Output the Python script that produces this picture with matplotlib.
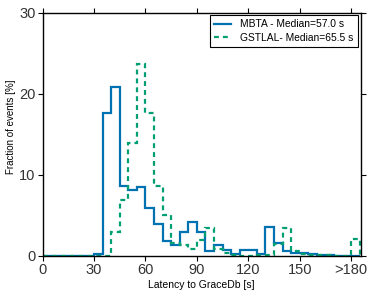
import numpy as np
import matplotlib
matplotlib.use("Agg")
import matplotlib.pyplot as plt

plt.rcParams['font.family'] = ['Liberation Sans', 'DejaVu Sans']

# histogram bins (5 s wide), last bin holds everything above 180 s
bin_edges = np.arange(0, 190, 5)

mbta_frac = [0, 0, 0, 0, 0, 0,
             0.25, 17.7, 20.8, 8.6, 8.2, 8.5, 5.9, 4.0, 1.8, 1.4,
             2.9, 4.2, 2.9, 0.6, 1.35, 0.7, 0.3, 0.7, 0.7, 0.3,
             3.6, 1.65, 0.6, 0.4, 0.4, 0.2, 0.15, 0.1, 0, 0, 0]
gstlal_frac = [0, 0, 0, 0, 0, 0,
               0, 0, 2.9, 6.9, 14.0, 23.7, 17.7, 8.6, 5.1, 1.6,
               1.4, 0.8, 2.0, 3.5, 0.9, 0.4, 0.15, 0, 0, 0.1,
               0.1, 1.5, 3.5, 0.6, 0.3, 0.15, 0.1, 0.1, 0.05, 0, 2.1]

xtick_vals = [0, 30, 60, 90, 120, 150, 180]
xtick_labels = ['0', '30', '60', '90', '120', '150', '>180']
ytick_vals = [0, 10, 20, 30]

mbta_label = 'MBTA - Median=57.0 s'
gstlal_label = 'GSTLAL- Median=65.5 s'

fig = plt.figure(figsize=(3.74, 2.98), dpi=100)
ax = fig.add_axes([0.114, 0.141, 0.85, 0.816])

ax.stairs(mbta_frac, bin_edges, color='#0072B2', lw=1.6, label=mbta_label)
ax.stairs(gstlal_frac, bin_edges, color='#009E73', lw=1.6,
          linestyle=(0, (2.2, 1.8)), label=gstlal_label)

ax.set_xlim(0, 185.5)
ax.set_ylim(0, 30)
ax.set_xticks(xtick_vals, xtick_labels)
ax.set_yticks(ytick_vals)
ax.tick_params(direction='out', length=3.5, width=0.8, labelsize=10.5,
               labelcolor='#333333', top=True, right=True, pad=1.5)
for sp in ax.spines.values():
    sp.set_linewidth(1.0)

ax.set_xlabel('Latency to GraceDb [s]', fontsize=7.5, labelpad=2)
ax.set_ylabel('Fraction of events [%]', fontsize=7)
ax.yaxis.set_label_coords(-0.085, 0.53)

leg = ax.legend(loc='upper right', fontsize=7.4, handlelength=1.7,
                fancybox=False, framealpha=1, edgecolor='black',
                borderaxespad=0.25, labelspacing=0.3, handletextpad=0.9,
                borderpad=0.4)
leg.get_frame().set_linewidth(0.8)

fig.savefig('out.png', dpi=100)
